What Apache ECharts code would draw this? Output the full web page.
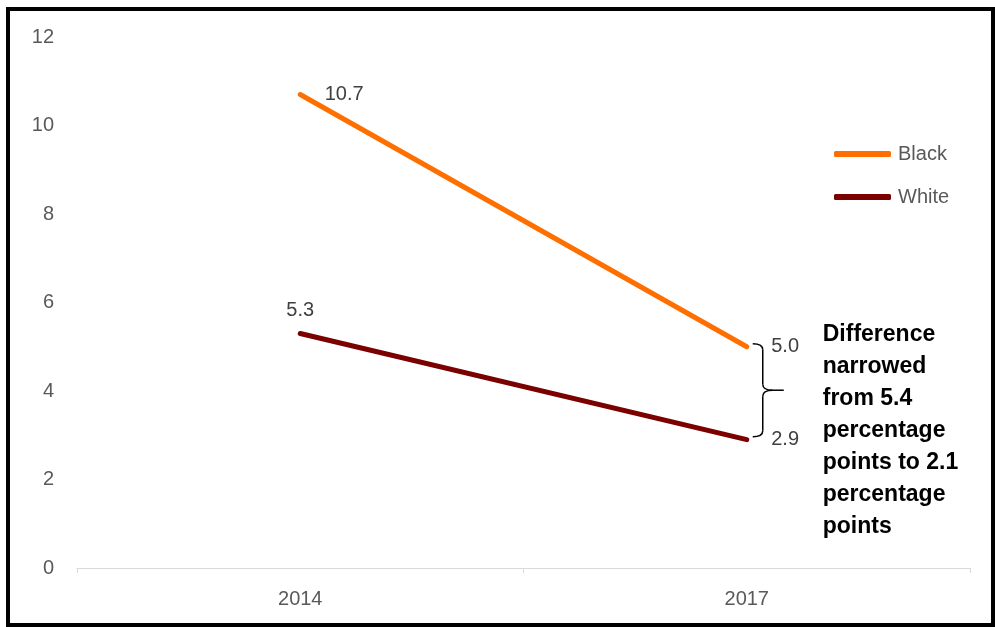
<!DOCTYPE html>
<html>
<head>
<meta charset="utf-8">
<script src="https://cdn.jsdelivr.net/npm/echarts@6/dist/echarts.min.js"></script>
<style>
html,body{margin:0;padding:0;background:#fff;}
#wrap{position:relative;width:995px;height:627px;}
#chart{width:995px;height:627px;}
#frame{position:absolute;left:6px;top:7px;right:0;bottom:0;border:4px solid #000;box-sizing:border-box;pointer-events:none;}
</style>
</head>
<body>
<div id="wrap"><div id="chart"></div><div id="frame"></div></div>
<script>
const categories = ['2014', '2017'];
const blackValues = [10.7, 5.0];
const whiteValues = [5.3, 2.9];
const seriesNames = ['Black', 'White'];
const annotationLines = ['Difference', 'narrowed', 'from 5.4', 'percentage', 'points to 2.1', 'percentage', 'points'];

const FONT = '"Liberation Sans", Arial, sans-serif';
const chart = echarts.init(document.getElementById('chart'), null, {renderer: 'canvas'});

const fmt = p => p.value.toFixed(1);

chart.setOption({
  animation: false,
  backgroundColor: '#fff',
  grid: {left: 77, right: 25, top: 37, bottom: 59},
  legend: {
    orient: 'vertical',
    left: 834, top: 144,
    padding: 0,
    icon: 'roundRect',
    itemWidth: 57, itemHeight: 6, itemGap: 23,
    textStyle: {fontFamily: FONT, fontSize: 20, color: '#595959', lineHeight: 20, padding: [0,0,0,2]},
    data: seriesNames
  },
  xAxis: {
    type: 'category',
    data: categories,
    boundaryGap: true,
    axisLine: {lineStyle: {color: '#d9d9d9', width: 1}},
    axisTick: {show: true, length: 5, lineStyle: {color: '#d9d9d9'}},
    axisLabel: {fontFamily: FONT, fontSize: 20, color: '#595959', margin: 21}
  },
  yAxis: {
    type: 'value', min: 0, max: 12, interval: 2,
    axisLine: {show: false}, axisTick: {show: false},
    splitLine: {show: false},
    axisLabel: {fontFamily: FONT, fontSize: 20, color: '#595959', margin: 23}
  },
  series: [
    {
      name: seriesNames[0], type: 'line', data: blackValues,
      symbol: 'circle', symbolSize: 1,
      color: '#ff6f00',
      lineStyle: {width: 5, color: '#ff6f00', cap: 'round'},
      itemStyle: {color: '#ff6f00'},
      label: {show: true, position: 'right', distance: 24, formatter: fmt,
              fontFamily: FONT, fontSize: 20, color: '#404040'}
    },
    {
      name: seriesNames[1], type: 'line', data: whiteValues.map((v, i) => i === 0
        ? {value: v, label: {position: 'top', distance: 12}}
        : {value: v}),
      symbol: 'circle', symbolSize: 1,
      color: '#7b0000',
      lineStyle: {width: 5, color: '#7b0000', cap: 'round'},
      itemStyle: {color: '#7b0000'},
      label: {show: true, position: 'right', distance: 24, formatter: fmt,
              fontFamily: FONT, fontSize: 20, color: '#404040'}
    }
  ]
});

const pB = chart.convertToPixel({seriesIndex: 0}, [1, blackValues[1]]);
const pW = chart.convertToPixel({seriesIndex: 1}, [1, whiteValues[1]]);
const bx = pB[0] + 16, ty = pB[1] - 3, by = pW[1] - 3, my = (ty + by) / 2;
const st = {stroke: '#000', lineWidth: 1.5, fill: null};
const curve = (x1, y1, cx, cy, x2, y2) => ({type: 'bezierCurve', shape: {x1, y1, cpx1: cx, cpy1: cy, x2, y2}, style: st});
const seg = (x1, y1, x2, y2) => ({type: 'line', shape: {x1, y1, x2, y2}, style: st});

chart.setOption({
  graphic: [
    curve(bx - 10, ty, bx, ty, bx, ty + 6),
    seg(bx, ty + 6, bx, my - 6),
    curve(bx, my - 6, bx, my, bx + 10, my),
    seg(bx + 10, my, bx + 21, my),
    curve(bx + 10, my, bx, my, bx, my + 6),
    seg(bx, my + 6, bx, by - 6),
    curve(bx, by - 6, bx, by, bx - 10, by),
    {type: 'text', left: pB[0] + 76, top: pB[1] - 28,
     style: {text: annotationLines.join('\n'), fontFamily: FONT, fontSize: 23, fontWeight: 'bold',
             lineHeight: 32, fill: '#000'}}
  ]
});
</script>
</body>
</html>
